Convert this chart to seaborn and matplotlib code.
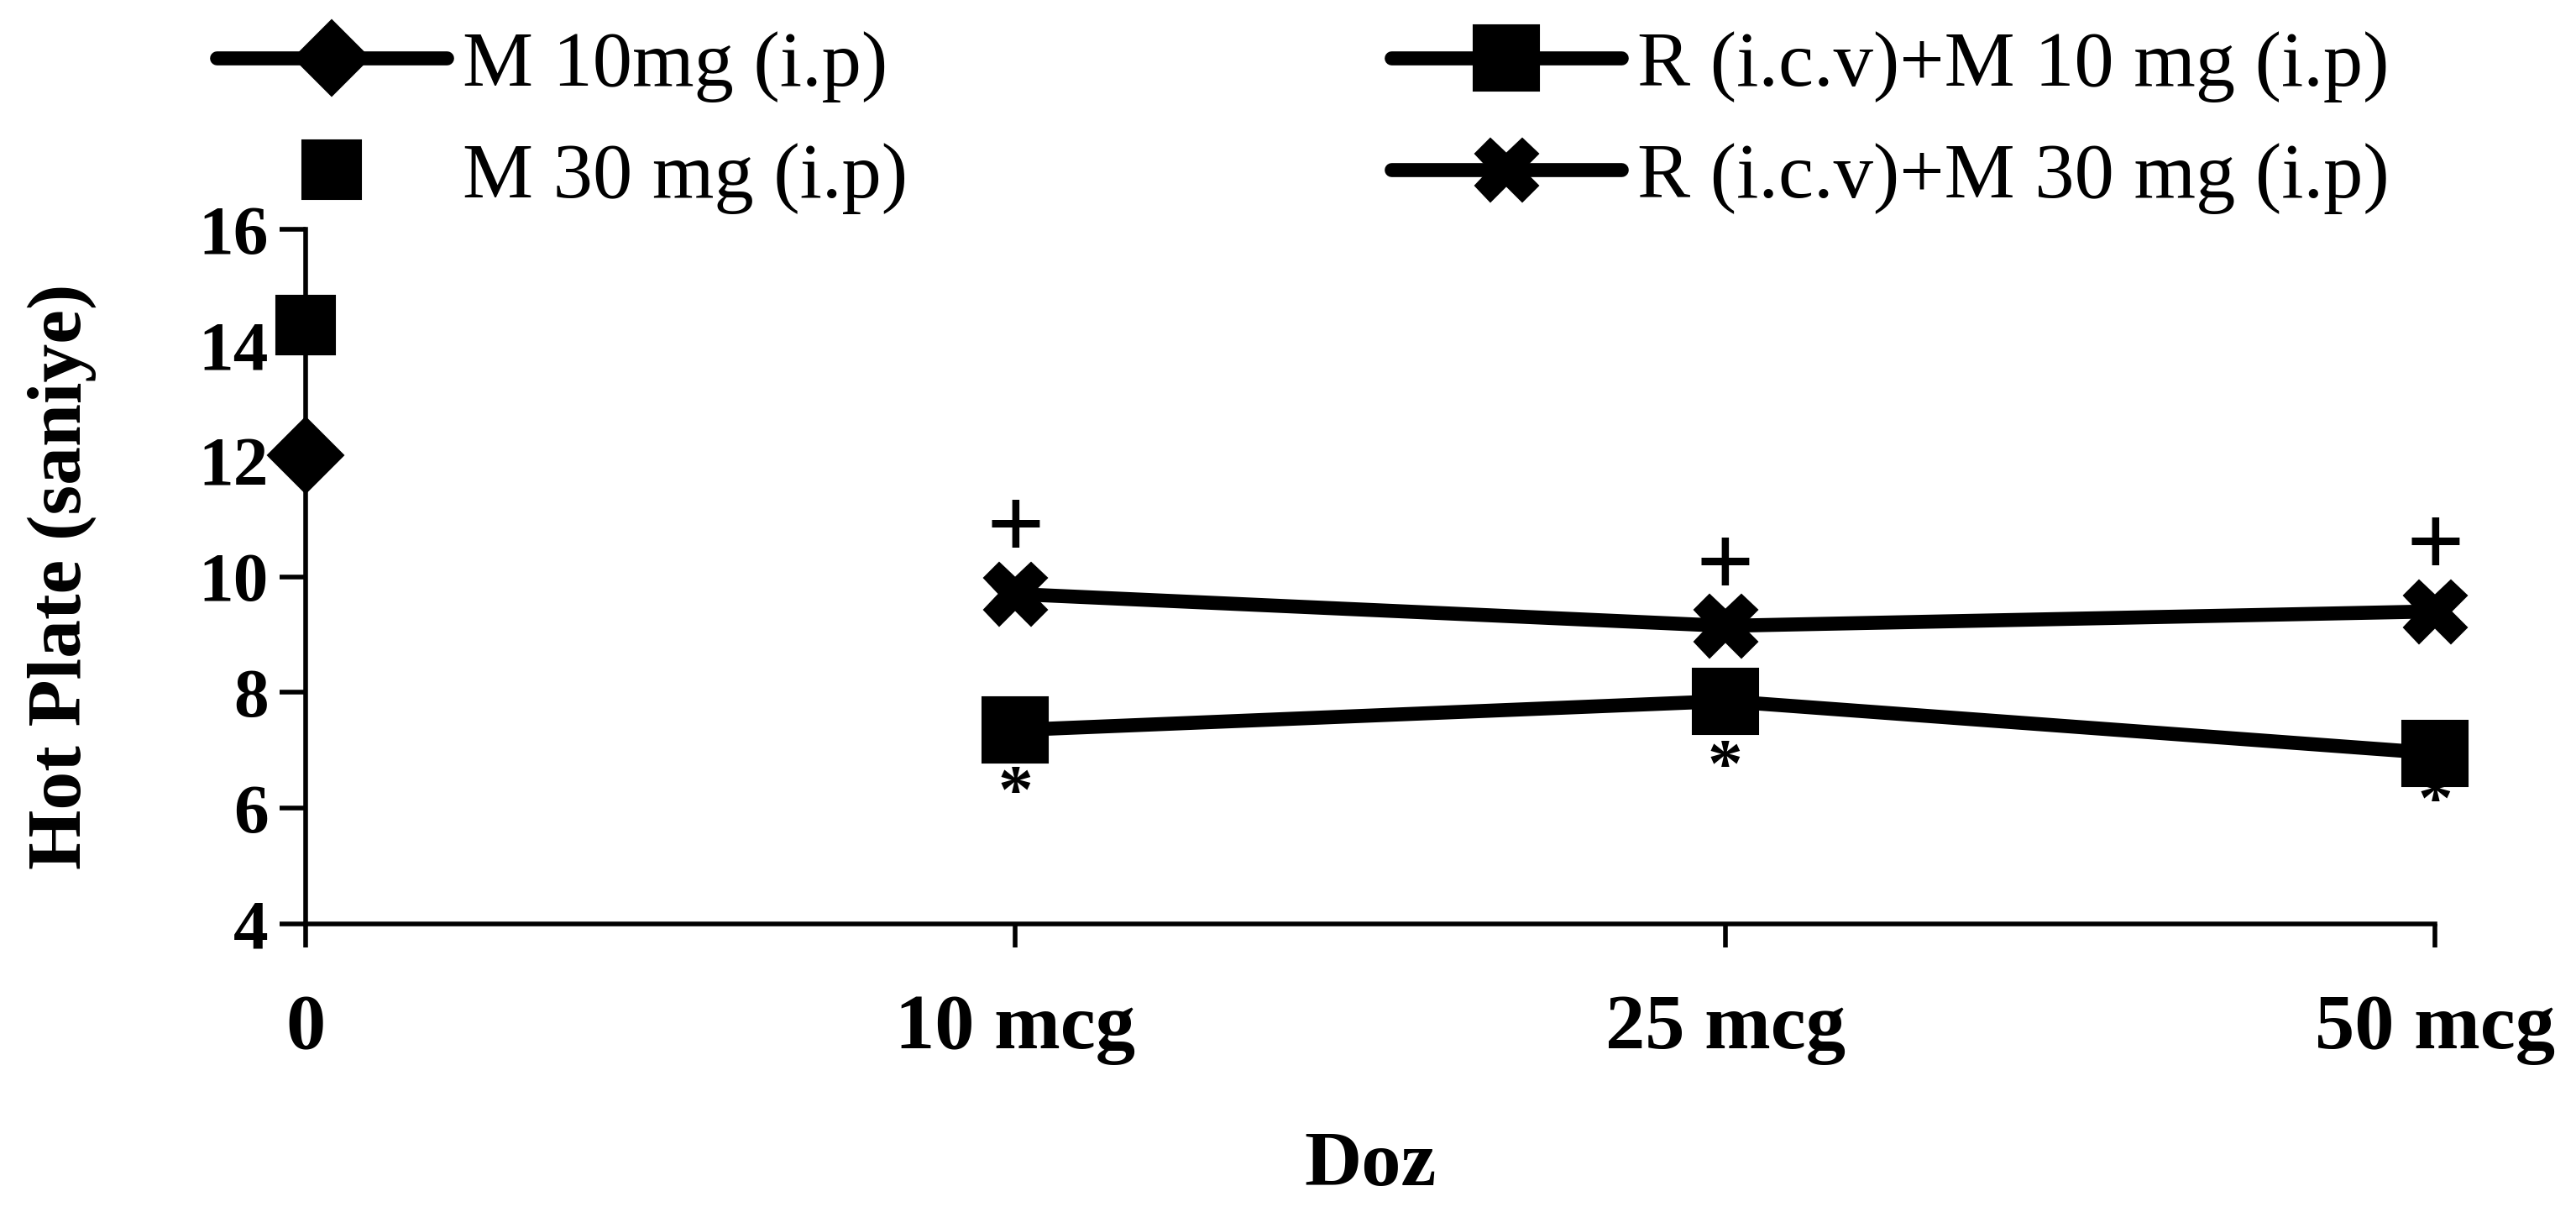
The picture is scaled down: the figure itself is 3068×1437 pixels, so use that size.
import numpy as np
import pandas as pd
import matplotlib.pyplot as plt
import seaborn as sns

# data
doses = ["0", "10 mcg", "25 mcg", "50 mcg"]
m10_y = [12.1]            # M 10mg (i.p), dose 0 only
m30_y = [14.35]           # M 30 mg (i.p), dose 0 only
rm10_y = [7.35, 7.85, 6.95]   # R (i.c.v)+M 10 mg (i.p)
rm30_y = [9.7, 9.15, 9.4]     # R (i.c.v)+M 30 mg (i.p)
plus_y = [10.75, 10.1, 10.45]  # "+" marks over R+M30
star_y = [6.5, 6.95, 6.35]     # "*" marks under R+M10
yticks = [4, 6, 8, 10, 12, 14, 16]

sns.set_style("ticks")
plt.rcParams['font.family'] = ['Liberation Serif', 'DejaVu Serif']
plt.rcParams['text.color'] = 'black'
plt.rcParams['axes.labelcolor'] = 'black'
plt.rcParams['xtick.color'] = 'black'
plt.rcParams['ytick.color'] = 'black'

fig, ax = plt.subplots(figsize=(15.34, 7.185), dpi=200)
fig.subplots_adjust(left=0.1186, right=0.9453, bottom=0.2345, top=0.810)

lw = 6
kw = dict(ax=ax, color="black", lw=lw, markeredgecolor="black", clip_on=False)
sns.lineplot(x=doses[:1], y=m10_y, marker="D", markersize=23, label="M 10mg (i.p)", **kw)
sns.lineplot(x=doses[:1], y=m30_y, linestyle="", marker="s", markersize=25, label="M 30 mg (i.p)", **kw)
sns.lineplot(x=doses[1:], y=rm10_y, marker="s", markersize=28, label="R (i.c.v)+M 10 mg (i.p)", **kw)
sns.lineplot(x=doses[1:], y=rm30_y, marker="X", markersize=27, label="R (i.c.v)+M 30 mg (i.p)", **kw)

for d, y in zip(doses[1:], plus_y):
    ax.text(d, y, "+", ha="center", va="center", fontsize=44, fontweight="bold")
for d, y in zip(doses[1:], star_y):
    ax.annotate("*", xy=(d, y), xytext=(0, -14), textcoords="offset points",
                ha="center", va="baseline", fontsize=30, fontweight="bold")

ax.set_xlim(0, 3)
ax.set_ylim(4, 16)
ax.set_yticks(yticks)
ax.set_yticklabels([str(t) for t in yticks], fontsize=30, fontweight="bold")
ax.set_xticks(range(len(doses)))
ax.set_xticklabels(doses, fontsize=34, fontweight="bold")
ax.tick_params(axis="y", length=11, width=2.0, pad=5)
ax.tick_params(axis="x", length=10, width=2.0, pad=20)
for s in ["left", "bottom"]:
    ax.spines[s].set_linewidth(2.0)
    ax.spines[s].set_color("black")
sns.despine(ax=ax)

ax.set_xlabel("Doz", fontsize=34, fontweight="bold", labelpad=28)
ax.set_ylabel("Hot Plate (saniye)", fontsize=33, fontweight="bold")
ax.yaxis.set_label_coords(-0.098, 0.5)

ax.legend(loc="upper left", bbox_to_anchor=(258 / 3068, 1 - 36 / 1437), bbox_transform=fig.transFigure,
          ncol=2, frameon=False, fontsize=34, handlelength=2.9, handletextpad=0.2,
          columnspacing=6.1, labelspacing=0.5, borderpad=0, borderaxespad=0)

fig.savefig("out.png", dpi=200, facecolor="white")
